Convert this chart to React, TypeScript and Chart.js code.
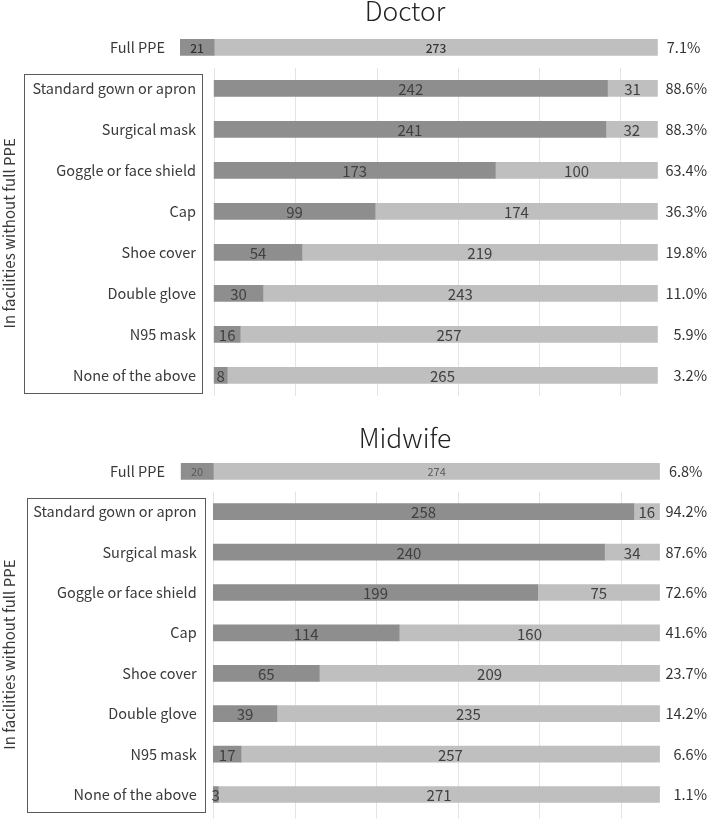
import React, { useEffect, useRef } from 'react';
import { Chart, registerables } from 'chart.js';

Chart.register(...registerables);

// ---------- data ----------
const categories = [
  'Full PPE',
  'Standard gown or apron',
  'Surgical mask',
  'Goggle or face shield',
  'Cap',
  'Shoe cover',
  'Double glove',
  'N95 mask',
  'None of the above',
];
const doctorHave = [21, 242, 241, 173, 99, 54, 30, 16, 8];
const doctorNot = [273, 31, 32, 100, 174, 219, 243, 257, 265];
const doctorPct = ['7.1%', '88.6%', '88.3%', '63.4%', '36.3%', '19.8%', '11.0%', '5.9%', '3.2%'];
const midwifeHave = [20, 258, 240, 199, 114, 65, 39, 17, 3];
const midwifeNot = [274, 16, 34, 75, 160, 209, 235, 257, 271];
const midwifePct = ['6.8%', '94.2%', '87.6%', '72.6%', '41.6%', '23.7%', '14.2%', '6.6%', '1.1%'];
const gridValues = [0, 50, 100, 150, 200, 250];
const groupLabel = 'In facilities without full PPE';

// ---------- style ----------
const FONT = '"Noto Sans CJK JP", "Noto Sans", sans-serif';
const DARK = '#8e8e8e';
const LIGHT = '#bfbfbf';
const TEXT = '#404040';

type Panel = {
  title: string;
  have: number[];
  not: number[];
  pct: string[];
  padding: { left: number; right: number; top: number; bottom: number };
  titleBaseline: number;
  boxLeft: number;
  boxRight: number;
  labelRight: number;
  fullLabelRight: number;
  fullValueFont: string;
  fullValueColor: string;
  gridExtra: number;
};

const panels: Panel[] = [
  {
    title: 'Doctor',
    have: doctorHave,
    not: doctorNot,
    pct: doctorPct,
    padding: { left: 180, right: 51.2, top: 26.8, bottom: 14.2 },
    titleBaseline: 20.5,
    boxLeft: 23.5,
    boxRight: 201.5,
    labelRight: 196,
    fullLabelRight: 165,
    fullValueFont: `500 12px ${FONT}`,
    fullValueColor: '#333333',
    gridExtra: 0,
  },
  {
    title: 'Midwife',
    have: midwifeHave,
    not: midwifeNot,
    pct: midwifePct,
    padding: { left: 180.7, right: 49.1, top: 41.1, bottom: 5.3 },
    titleBaseline: 38.3,
    boxLeft: 26.5,
    boxRight: 204.5,
    labelRight: 196.7,
    fullLabelRight: 165,
    fullValueFont: `11px ${FONT}`,
    fullValueColor: '#5a5a5a',
    gridExtra: 4,
  },
];

function makeOverlay(p: Panel) {
  return {
    id: 'overlay',
    beforeDatasetsDraw(chart: any) {
      const { ctx, chartArea, scales } = chart;
      const x = scales.x;
      const y = scales.y;
      const gTop = (y.getPixelForValue(0) + y.getPixelForValue(1)) / 2;
      ctx.save();
      ctx.strokeStyle = '#e4e4e4';
      ctx.lineWidth = 1;
      gridValues.forEach((v) => {
        const px = Math.round(x.getPixelForValue(v)) + 0.5;
        ctx.beginPath();
        ctx.moveTo(px, gTop);
        ctx.lineTo(px, chartArea.bottom + p.gridExtra);
        ctx.stroke();
      });
      ctx.restore();
    },
    afterDatasetsDraw(chart: any) {
      const { ctx, chartArea, scales } = chart;
      const y = scales.y;
      ctx.save();

      // value labels centred in each segment
      ctx.textBaseline = 'middle';
      ctx.textAlign = 'center';
      [0, 1].forEach((di) => {
        const meta = chart.getDatasetMeta(di);
        const values = chart.data.datasets[di].data as number[];
        meta.data.forEach((el: any, i: number) => {
          const cx = (el.x + el.base) / 2;
          const cy = el.y;
          if (i === 0) {
            ctx.font = p.fullValueFont;
            ctx.fillStyle = p.fullValueColor;
          } else {
            ctx.font = `15px ${FONT}`;
            ctx.fillStyle = TEXT;
          }
          ctx.fillText(String(Math.abs(values[i])), cx, cy + 1);
        });
      });

      // category labels
      ctx.font = `14.5px ${FONT}`;
      ctx.fillStyle = '#3a3a3a';
      ctx.textAlign = 'right';
      categories.forEach((c, i) => {
        const cy = y.getPixelForValue(i);
        ctx.fillText(c, i === 0 ? p.fullLabelRight : p.labelRight, cy);
      });

      // percentages
      ctx.font = `14.5px ${FONT}`;
      ctx.fillStyle = '#333333';
      p.pct.forEach((pct, i) => {
        const cy = y.getPixelForValue(i);
        if (i === 0) {
          ctx.textAlign = 'left';
          ctx.fillText(pct, chartArea.right + 9, cy);
        } else {
          ctx.textAlign = 'right';
          ctx.fillText(pct, chart.width - 2, cy);
        }
      });

      // group box
      const y0 = y.getPixelForValue(0);
      const y1 = y.getPixelForValue(1);
      const boxTop = (y0 + y1) / 2 + 6;
      const boxBottom = chartArea.bottom - 3;
      ctx.strokeStyle = '#5a5a5a';
      ctx.lineWidth = 1;
      ctx.strokeRect(
        Math.round(p.boxLeft) + 0.5,
        Math.round(boxTop) + 0.5,
        Math.round(p.boxRight - p.boxLeft),
        Math.round(boxBottom - boxTop)
      );

      // rotated group label
      ctx.save();
      ctx.translate(9, (boxTop + boxBottom) / 2);
      ctx.rotate(-Math.PI / 2);
      ctx.textAlign = 'center';
      ctx.textBaseline = 'middle';
      ctx.font = `15px ${FONT}`;
      ctx.fillStyle = '#3a3a3a';
      ctx.fillText(groupLabel, 0, 0);
      ctx.restore();

      // title
      ctx.font = `300 26.5px ${FONT}`;
      ctx.fillStyle = '#222222';
      ctx.textAlign = 'center';
      ctx.textBaseline = 'alphabetic';
      ctx.fillText(p.title, 405, p.titleBaseline);

      ctx.restore();
    },
  };
}

function PanelChart({ p, top }: { p: Panel; top: number }) {
  const ref = useRef<HTMLCanvasElement | null>(null);
  useEffect(() => {
    if (!ref.current) return;
    const darkData = p.have.map((v, i) => (i === 0 ? -v : v));
    const chart = new Chart(ref.current, {
      type: 'bar',
      data: {
        labels: categories,
        datasets: [
          { label: 'Yes', data: darkData, backgroundColor: DARK, barThickness: 16, borderWidth: 0 },
          { label: 'No', data: p.not, backgroundColor: LIGHT, barThickness: 16, borderWidth: 0 },
        ],
      },
      options: {
        indexAxis: 'y',
        responsive: false,
        animation: false,
        layout: { padding: p.padding },
        plugins: {
          legend: { display: false },
          tooltip: { enabled: false },
          title: { display: false },
        },
        scales: {
          x: { type: 'linear', stacked: true, min: -p.have[0], max: p.not[0], display: false },
          y: { type: 'category', stacked: true, display: false, offset: true },
        },
      },
      plugins: [makeOverlay(p)],
    } as any);
    return () => chart.destroy();
  }, [p]);
  return (
    <canvas
      ref={ref}
      width={709}
      height={410}
      style={{ position: 'absolute', left: 0, top, width: 709, height: 410, display: 'block' }}
    />
  );
}

export default function App() {
  return (
    <div style={{ position: 'absolute', left: 0, top: 0, width: 709, height: 820, background: '#ffffff' }}>
      <PanelChart p={panels[0]} top={0} />
      <PanelChart p={panels[1]} top={410} />
    </div>
  );
}
